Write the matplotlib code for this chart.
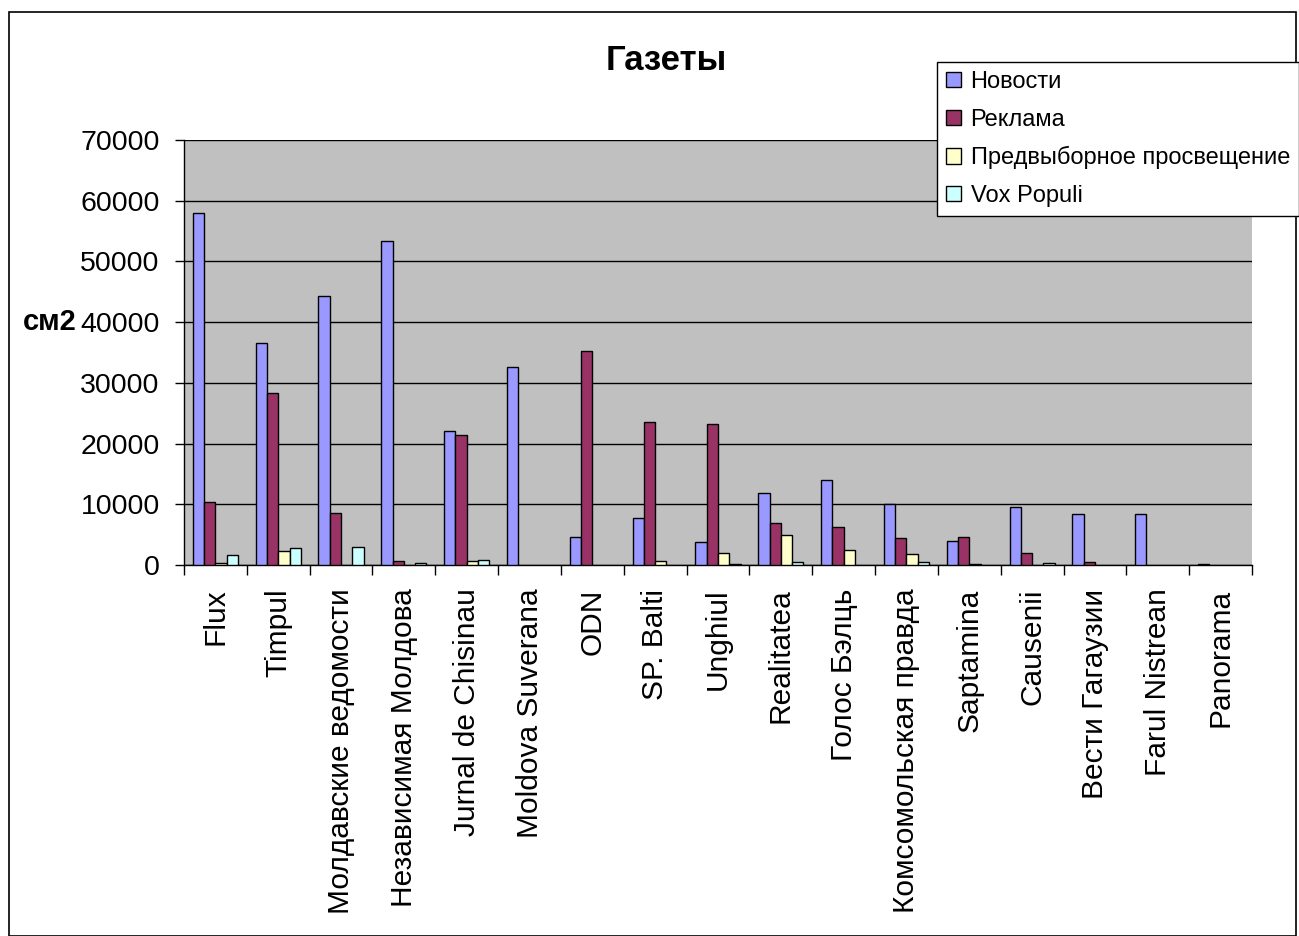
import numpy as np
import matplotlib
matplotlib.use("Agg")
import matplotlib.pyplot as plt
from matplotlib.patches import Rectangle

plt.rcParams['font.family'] = ['Liberation Sans', 'DejaVu Sans']

categories = ['Flux', 'Timpul', 'Молдавские ведомости', 'Независимая Молдова',
              'Jurnal de Chisinau', 'Moldova Suverana', 'ODN', 'SP. Balti', 'Unghiul',
              'Realitatea', 'Голос Бэлць', 'Комсомольская правда', 'Saptamina',
              'Causenii', 'Вести Гагаузии', 'Farul Nistrean', 'Panorama']
novosti = [58000, 36600, 44300, 53300, 22000, 32600, 4660, 7740, 3790, 11860,
           13940, 10050, 3950, 9490, 8400, 8400, 150]
reklama = [10380, 28330, 8610, 710, 21470, 0, 35300, 23500, 23280, 6850,
           6260, 4450, 4610, 1980, 540, 0, 0]
predvyb = [330, 2360, 0, 0, 710, 0, 0, 710, 1980, 4990,
           2470, 1810, 160, 0, 0, 0, 0]
vox = [1590, 2850, 3010, 330, 870, 0, 0, 0, 160, 490,
       0, 490, 0, 330, 0, 0, 0]

series = [('Новости', novosti, '#9999FF'),
          ('Реклама', reklama, '#993366'),
          ('Предвыборное просвещение', predvyb, '#FFFFCC'),
          ('Vox Populi', vox, '#CCFFFF')]

W, H = 1299, 936
fig = plt.figure(figsize=(W / 100, H / 100), dpi=100)
ax = fig.add_axes([184 / W, 1 - 565 / H, (1252 - 184) / W, (565 - 140) / H])
ax.set_facecolor('#C0C0C0')

x = np.arange(len(categories))
bw = 0.18
offsets = [-1.5 * bw, -0.5 * bw, 0.5 * bw, 1.5 * bw]
for (name, vals, col), off in zip(series, offsets):
    vals = np.array(vals, dtype=float)
    keep = vals > 0
    ax.bar(x[keep] + off, vals[keep], width=bw, color=col, edgecolor='black',
           linewidth=1.0, label=name, zorder=3)

ax.set_xlim(-0.5, len(categories) - 0.5)
ax.set_ylim(0, 70000)
ax.set_yticks(np.arange(0, 70001, 10000))
ax.yaxis.grid(True, color='black', linewidth=1.0)
ax.set_axisbelow(True)
ax.tick_params(axis='y', labelsize=20.5, length=6.5, width=1, pad=11, color='black')

ax.set_xticks(x)
ax.set_xticklabels(categories, rotation=90, va='top', ha='center', fontsize=21.5)
ax.set_xticks(np.arange(-0.5, len(categories), 1), minor=True)
ax.tick_params(axis='x', which='major', length=0, pad=17)
ax.tick_params(axis='x', which='minor', length=7, width=1, color='black')

for s in ['top', 'right']:
    ax.spines[s].set_visible(False)
for s in ['left', 'bottom']:
    ax.spines[s].set_color('black')
    ax.spines[s].set_linewidth(1.0)

fig.text(666 / W, 1 - 60 / H, 'Газеты', ha='center', va='center',
         fontsize=25, fontweight='bold')
fig.text(77 / W, 1 - 322 / H, 'см2', ha='right', va='center',
         fontsize=21, fontweight='bold')

leg = fig.legend(loc='upper left', bbox_to_anchor=(937 / W, 1 - 62 / H),
                 fontsize=17, frameon=True, fancybox=False, shadow=False,
                 handlelength=0.62, handleheight=0.62, handletextpad=0.42,
                 labelspacing=0.66, borderpad=0.38, borderaxespad=0)
leg.get_frame().set_edgecolor('black')
leg.get_frame().set_linewidth(1.0)
leg.get_frame().set_alpha(1)

fig.patches.append(Rectangle((9 / W, 0), (1296 - 9) / W, 1 - 12 / H,
                             transform=fig.transFigure, fill=False,
                             edgecolor='black', linewidth=1.2))

fig.savefig('out.png', dpi=100)
